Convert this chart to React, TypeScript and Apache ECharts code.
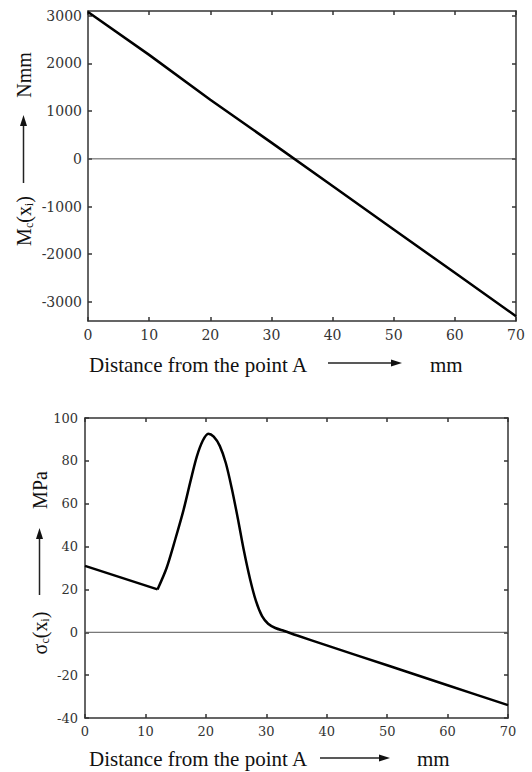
import React, { useEffect, useRef } from "react";
import * as echarts from "echarts";

// ---- data ----
const momentX = [0, 10, 20, 30, 40, 50, 60, 70];
const momentValues = [3080, 2180, 1240, 340, -570, -1480, -2390, -3300];
const momentTicks = [-3000, -2000, -1000, 0, 1000, 2000, 3000];

const stressLinearX = [0, 12];
const stressLinearValues = [31, 20];
const stressCurveX = [12, 13.5, 15, 16.3, 17.5, 18.5, 19.5, 20.4, 21.3, 22.3, 23.3, 24.3, 25.3, 26.3, 27.3, 28.3, 29.3, 30.3, 31.5, 33, 35, 40, 50, 60, 70];
const stressCurveValues = [20, 30, 44, 57, 71, 82, 89.5, 92.7, 91.3, 87, 79, 67, 53, 38, 25, 14.5, 7.5, 4, 2, 0.6, -1.4, -6.1, -15.4, -24.7, -34];

const xTitle = "Distance from the point A";
const xUnit = "mm";
const topUnit = "Nmm";
const bottomUnit = "MPa";

const pairs = (xs: number[], ys: number[]) => xs.map((x, i) => [x, ys[i]]);

const FRAME = "#333";
const LABEL_FONT = "DejaVu Serif";
const TITLE_FONT = "Liberation Serif";
const TITLE_SIZE = 21;

function xAxisPair(grid: number, fontSize: number) {
  const base = {
    gridIndex: grid,
    type: "value" as const,
    min: 0,
    max: 70,
    interval: 10,
    splitLine: { show: false },
    axisLine: { show: true, onZero: false, lineStyle: { color: FRAME, width: 1.5 } },
    axisTick: { show: true, inside: true, length: 4, lineStyle: { color: FRAME, width: 1.5 } },
  };
  return [
    {
      ...base,
      position: "bottom",
      axisLabel: { show: true, margin: 7, color: "#333", fontFamily: LABEL_FONT, fontSize, formatter: (v: number) => String(v) },
    },
    { ...base, position: "top", axisLabel: { show: false } },
  ];
}

function arrowV(x: number, yBottom: number, yTip: number) {
  return [
    { type: "line", shape: { x1: x, y1: yBottom, x2: x, y2: yTip + 8 }, style: { stroke: "#222", lineWidth: 1.5 } },
    { type: "polygon", shape: { points: [[x, yTip], [x - 3.5, yTip + 11], [x + 3.5, yTip + 11]] }, style: { fill: "#111" } },
  ];
}
function arrowH(x1: number, xTip: number, y: number) {
  return [
    { type: "line", shape: { x1, y1: y, x2: xTip - 8, y2: y }, style: { stroke: "#222", lineWidth: 1.5 } },
    { type: "polygon", shape: { points: [[xTip, y], [xTip - 11, y - 3.5], [xTip - 11, y + 3.5]] }, style: { fill: "#111" } },
  ];
}

const richSub = {
  n: { fontFamily: TITLE_FONT, fontSize: 20, color: "#111", lineHeight: 22 },
  s: { fontFamily: TITLE_FONT, fontSize: 12, color: "#111", lineHeight: 22, verticalAlign: "bottom", padding: [8, 0, 0, 0] },
};

function vText(x: number, y: number, text: string, rich = false) {
  return {
    type: "text",
    x,
    y,
    rotation: Math.PI / 2,
    style: {
      text,
      align: "center",
      verticalAlign: "middle",
      fontFamily: TITLE_FONT,
      fontSize: 20,
      fill: "#111",
      ...(rich ? { rich: richSub } : {}),
    },
  };
}
function hText(x: number, y: number, text: string) {
  return {
    type: "text",
    x,
    y,
    style: { text, align: "left", verticalAlign: "middle", fontFamily: TITLE_FONT, fontSize: TITLE_SIZE, fill: "#111" },
  };
}

export default function App() {
  const ref = useRef<HTMLDivElement>(null);
  useEffect(() => {
    if (!ref.current) return;
    const chart = echarts.init(ref.current, null, { renderer: "svg" });
    const yBase = {
      type: "value" as const,
      splitLine: { show: false },
      axisLine: { show: true, onZero: false, lineStyle: { color: FRAME, width: 1.5 } },
    };
    const fmt = (v: number) => String(v);
    chart.setOption({
      animation: false,
      backgroundColor: "#fff",
      grid: [
        { left: 88, right: 16, top: 11, height: 310 },
        { left: 85, right: 24, top: 418, height: 300 },
      ],
      xAxis: [...xAxisPair(0, 14), ...xAxisPair(1, 13)],
      yAxis: [
        {
          ...yBase,
          gridIndex: 0,
          min: -3400,
          max: 3100,
          position: "left",
          axisTick: { show: true, inside: true, length: 4, customValues: momentTicks, lineStyle: { color: FRAME, width: 1.5 } },
          axisLabel: { show: true, margin: 6, customValues: momentTicks, formatter: fmt, color: "#333", fontFamily: LABEL_FONT, fontSize: 14 },
        },
        {
          ...yBase,
          gridIndex: 0,
          min: -3400,
          max: 3100,
          position: "right",
          axisTick: { show: true, inside: true, length: 4, customValues: momentTicks, lineStyle: { color: FRAME, width: 1.5 } },
          axisLabel: { show: false },
        },
        {
          ...yBase,
          gridIndex: 1,
          min: -40,
          max: 100,
          interval: 20,
          position: "left",
          axisTick: { show: true, inside: true, length: 4, lineStyle: { color: FRAME, width: 1.5 } },
          axisLabel: { show: true, margin: 7, formatter: fmt, color: "#333", fontFamily: LABEL_FONT, fontSize: 13 },
        },
        {
          ...yBase,
          gridIndex: 1,
          min: -40,
          max: 100,
          interval: 20,
          position: "right",
          axisTick: { show: true, inside: true, length: 4, lineStyle: { color: FRAME, width: 1.5 } },
          axisLabel: { show: false },
        },
      ],
      series: [
        {
          type: "line",
          xAxisIndex: 0,
          yAxisIndex: 0,
          data: [[0, 0], [70, 0]],
          symbol: "none",
          lineStyle: { color: "#555", width: 1 },
          silent: true,
        },
        {
          type: "line",
          xAxisIndex: 0,
          yAxisIndex: 0,
          data: pairs(momentX, momentValues),
          symbol: "none",
          lineStyle: { color: "#000", width: 2.5 },
        },
        {
          type: "line",
          xAxisIndex: 2,
          yAxisIndex: 2,
          data: [[0, 0], [70, 0]],
          symbol: "none",
          lineStyle: { color: "#555", width: 1 },
          silent: true,
        },
        {
          type: "line",
          xAxisIndex: 2,
          yAxisIndex: 2,
          data: pairs(stressLinearX, stressLinearValues),
          symbol: "none",
          lineStyle: { color: "#000", width: 2.5 },
        },
        {
          type: "line",
          xAxisIndex: 2,
          yAxisIndex: 2,
          data: pairs(stressCurveX, stressCurveValues),
          symbol: "none",
          smooth: 0.3,
          lineStyle: { color: "#000", width: 2.5 },
        },
      ],
      graphic: [
        // top chart titles
        hText(89, 365, xTitle),
        ...arrowH(328, 402, 363),
        hText(430, 365, xUnit),
        vText(24, 221, "{n|M}{s|c}{n|(x}{s|i}{n|)}", true),
        ...arrowV(23.5, 183, 115),
        vText(24, 75, topUnit),
        // bottom chart titles
        hText(89, 759, xTitle),
        ...arrowH(320, 390, 758),
        hText(417, 759, xUnit),
        vText(40, 633, "{n|σ}{s|c}{n|(x}{s|i}{n|)}", true),
        ...arrowV(39.5, 595, 528),
        vText(40, 490, bottomUnit),
      ],
    });
    return () => chart.dispose();
  }, []);
  return <div ref={ref} style={{ position: "fixed", left: 0, top: 0, width: 532, height: 772 }} />;
}
